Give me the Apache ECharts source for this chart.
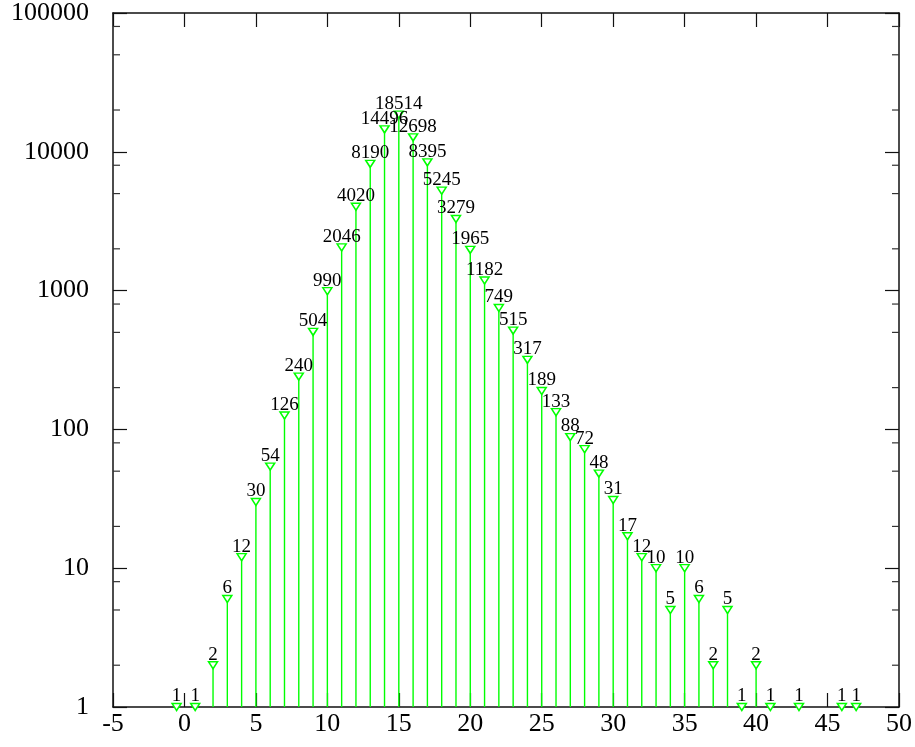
<!DOCTYPE html>
<html><head><meta charset="utf-8">
<script src="https://cdn.jsdelivr.net/npm/echarts@6/dist/echarts.min.js"></script>
<style>html,body{margin:0;padding:0;background:#fff}#c{width:915px;height:747px}</style>
</head><body><div id="c"></div>
<script>
// Data
const xValues = [-0.55, 0.75, 2, 3, 4, 5, 6, 7, 8, 9, 10, 11, 12, 13, 14, 15, 16, 17, 18, 19, 20,
  21, 22, 23, 24, 25, 26, 27, 28, 29, 30, 31, 32, 33, 34, 35, 36, 37, 38, 39, 40, 41, 43, 46, 47];
const counts = [1, 1, 2, 6, 12, 30, 54, 126, 240, 504, 990, 2046, 4020, 8190, 14496, 18514, 12698, 8395, 5245, 3279, 1965,
  1182, 749, 515, 317, 189, 133, 88, 72, 48, 31, 17, 12, 10, 5, 10, 6, 2, 5, 1, 2, 1, 1, 1, 1];
const xTickValues = [-5, 0, 5, 10, 15, 20, 25, 30, 35, 40, 45, 50];
const yTickLabels = ['1', '10', '100', '1000', '10000', '100000'];
const yMinorTicks = [2, 5, 8, 20, 50, 80, 200, 500, 800, 2000, 5000, 8000, 20000, 50000, 80000];

const FONT = '"Liberation Serif", "DejaVu Serif", serif';
const xMin = xTickValues[0], xMax = xTickValues[xTickValues.length - 1];
const yMin = Number(yTickLabels[0]), yMax = Number(yTickLabels[yTickLabels.length - 1]);

const points = xValues.map((x, i) => [x, counts[i]]);

const axisLine = { show: true, onZero: false, lineStyle: { color: '#111', width: 1.5 } };
const axisTick = { show: true, inside: true, length: 14, lineStyle: { color: '#111', width: 1.2 } };

const chart = echarts.init(document.getElementById('c'), null, { renderer: 'canvas' });
chart.setOption({
  animation: false,
  backgroundColor: '#ffffff',
  grid: { left: 113, right: 16, top: 13, bottom: 40, containLabel: false },
  xAxis: [
    {
      type: 'value', min: xMin, max: xMax, interval: 5, position: 'bottom',
      axisLine, axisTick, splitLine: { show: false },
      axisLabel: { color: '#000', fontSize: 26, fontFamily: FONT, margin: 4 }
    },
    {
      type: 'value', min: xMin, max: xMax, interval: 5, position: 'top',
      axisLine, axisTick, splitLine: { show: false }, axisLabel: { show: false }
    }
  ],
  yAxis: [
    {
      type: 'log', logBase: 10, min: yMin, max: yMax, position: 'left',
      axisLine, axisTick, splitLine: { show: false }, minorTick: { show: false },
      axisLabel: {
        color: '#000', fontSize: 26, fontFamily: FONT, margin: 24,
        formatter: v => String(Math.round(v))
      }
    },
    {
      type: 'log', logBase: 10, min: yMin, max: yMax, position: 'right',
      axisLine, axisTick, splitLine: { show: false }, axisLabel: { show: false }
    }
  ],
  series: [
    {
      type: 'custom', name: 'impulses', xAxisIndex: 0, yAxisIndex: 0,
      data: points, z: 2,
      renderItem: (params, api) => {
        const x = api.value(0), y = api.value(1);
        const p0 = api.coord([x, yMin]);
        const p1 = api.coord([x, y]);
        return {
          type: 'line',
          shape: { x1: p0[0], y1: p0[1], x2: p1[0], y2: p1[1] },
          style: { stroke: '#00ff00', lineWidth: 1.4 }
        };
      }
    },
    {
      type: 'scatter', name: 'points', xAxisIndex: 0, yAxisIndex: 0,
      data: points, z: 3,
      symbol: 'triangle', symbolRotate: 180, symbolSize: [9, 7],
      itemStyle: { color: '#ffffff', borderColor: '#00ff00', borderWidth: 1.5, opacity: 1 },
      label: {
        show: true, position: 'top', distance: -3,
        color: '#000', fontSize: 19, fontFamily: FONT,
        formatter: p => String(p.value[1])
      },
      emphasis: { disabled: true }
    },
    {
      type: 'custom', name: 'minorTicks', xAxisIndex: 0, yAxisIndex: 0,
      data: yMinorTicks.map(v => [xMin, v]), z: 4, clip: false, silent: true,
      renderItem: (params, api) => {
        const v = api.value(1);
        const l = api.coord([xMin, v]);
        const r = api.coord([xMax, v]);
        return {
          type: 'group',
          children: [
            { type: 'line', shape: { x1: l[0], y1: l[1], x2: l[0] + 7, y2: l[1] }, style: { stroke: '#333', lineWidth: 1.2 } },
            { type: 'line', shape: { x1: r[0] - 7, y1: r[1], x2: r[0], y2: r[1] }, style: { stroke: '#333', lineWidth: 1.2 } }
          ]
        };
      }
    }
  ]
});
</script>
</body></html>
